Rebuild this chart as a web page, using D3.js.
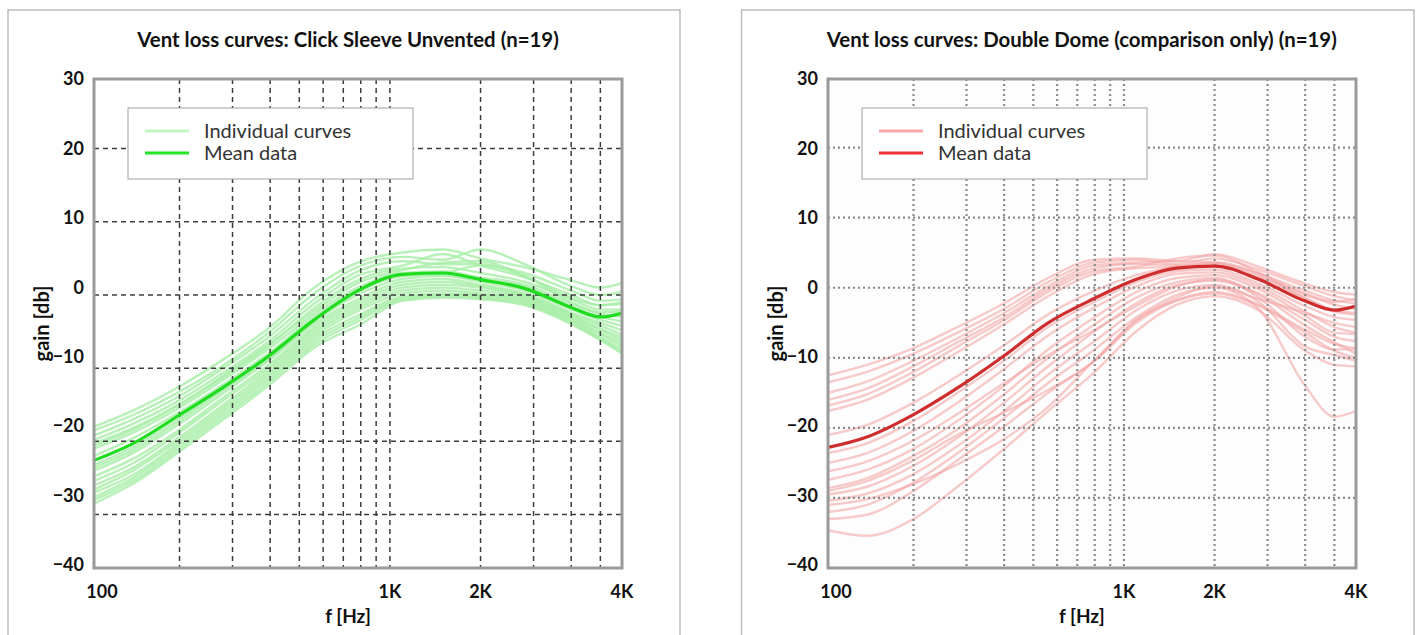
<!DOCTYPE html>
<html>
<head>
<meta charset="utf-8">
<script src="https://cdn.jsdelivr.net/npm/d3@7"></script>
<style>
body { margin: 0; background: #fff; }
text { font-family: Lato, "Open Sans", sans-serif; }
</style>
</head>
<body>
<div class="board"></div>
<script>

// frequency points shared by every curve (Hz)
var freqs = [104, 140, 200, 280, 400, 560, 800, 1100, 1500, 2000, 2800, 4000, 5000, 5900];

var clickMean = [-22.6, -20.3, -16.4, -12.6, -8.2, -3.4, 0.8, 2.8, 3.0, 2.1, 0.9, -1.7, -3.0, -2.5];
var clickCurves = [
  [-18.0, -15.8, -12.5, -8.8, -4.4, 1.0, 4.6, 5.8, 6.2, 5.0, 3.8, 2.0, 1.0, 1.6],
  [-18.5, -16.4, -13.2, -9.6, -5.0, 0.2, 4.0, 5.2, 4.8, 6.2, 4.2, 1.2, 0.0, 0.4],
  [-19.2, -17.0, -13.8, -10.0, -5.6, -0.6, 3.4, 4.6, 4.2, 4.2, 3.0, 0.6, -0.8, -0.6],
  [-19.8, -17.6, -14.4, -10.6, -6.2, -1.2, 2.8, 4.0, 5.6, 4.0, 2.4, 0.0, -1.4, -1.2],
  [-20.3, -18.2, -14.9, -11.2, -6.8, -1.8, 2.2, 3.6, 3.8, 3.0, 1.8, -0.6, -2.0, -2.0],
  [-21.0, -18.8, -15.4, -11.6, -7.2, -2.6, 1.2, 3.0, 3.2, 2.4, 1.4, -1.2, -2.6, -3.0],
  [-22.0, -19.6, -16.0, -12.2, -7.8, -3.0, 0.8, 2.6, 2.8, 2.0, 1.2, -1.6, -3.0, -3.6],
  [-23.2, -20.8, -16.8, -12.8, -8.4, -3.6, 0.2, 2.2, 2.6, 1.8, 0.6, -2.0, -3.4, -4.2],
  [-24.0, -21.6, -17.6, -13.4, -8.8, -4.0, -0.4, 1.8, 2.2, 1.4, 0.2, -2.4, -3.8, -4.8],
  [-24.8, -22.4, -18.4, -14.0, -9.4, -4.4, -0.8, 1.4, 1.8, 1.2, 0.0, -2.6, -4.2, -5.4],
  [-25.4, -23.0, -18.8, -14.4, -9.8, -4.8, -1.2, 1.0, 1.4, 1.0, -0.2, -2.8, -4.6, -5.8],
  [-26.0, -23.6, -19.4, -15.0, -10.2, -5.2, -1.6, 0.6, 1.0, 0.6, -0.4, -3.0, -4.8, -6.2],
  [-26.6, -24.0, -19.8, -15.4, -10.6, -5.6, -2.0, 0.2, 0.6, 0.2, -0.6, -3.2, -5.2, -6.6],
  [-27.0, -24.6, -20.2, -15.8, -11.0, -6.0, -2.6, -0.2, 0.2, 0.0, -0.8, -3.4, -5.4, -7.0],
  [-27.6, -25.0, -20.6, -16.2, -11.4, -6.4, -3.0, -0.4, 0.0, -0.2, -1.0, -3.6, -5.8, -7.4],
  [-28.0, -25.4, -21.0, -16.6, -11.8, -6.8, -3.4, -0.6, -0.2, -0.4, -1.2, -3.8, -6.0, -7.8],
  [-28.5, -25.8, -21.4, -17.0, -12.2, -7.2, -4.0, -0.8, -0.4, -0.6, -1.4, -4.0, -6.2, -8.0],
  [-23.6, -21.2, -17.2, -13.0, -8.6, -3.6, 0.6, 2.6, 3.0, 4.0, 2.6, -1.0, -2.4, -2.2],
  [-20.6, -18.4, -15.0, -11.0, -6.6, -2.2, 1.8, 3.4, 4.4, 4.6, 2.6, -0.4, -1.4, -1.0]
];

var domeMean = [-22.8, -21.3, -18.1, -14.3, -9.7, -5.0, -1.5, 1.2, 2.8, 3.1, 1.2, -1.9, -3.2, -2.6];
var domeCurves = [
  [-12.5, -11.0, -8.6, -5.6, -2.2, 1.4, 4.0, 4.2, 3.8, 4.8, 3.0, 0.6, -0.6, -1.0],
  [-13.5, -12.0, -9.4, -6.4, -3.0, 0.8, 3.6, 4.0, 3.4, 4.2, 2.6, 0.2, -1.2, -1.8],
  [-15.0, -13.4, -10.4, -7.2, -3.6, 0.2, 3.2, 3.6, 3.8, 3.6, 2.0, -0.4, -1.8, -2.2],
  [-16.0, -14.4, -11.2, -7.8, -4.2, -0.2, 2.8, 3.4, 3.2, 3.4, 1.6, -0.8, -2.4, -3.0],
  [-16.8, -15.2, -12.0, -8.4, -4.6, -0.6, 2.4, 3.0, 4.2, 4.6, 2.2, -1.0, -2.0, -1.6],
  [-17.6, -16.0, -12.8, -9.2, -5.2, -1.2, 2.0, 2.8, 3.0, 3.2, 1.4, -1.4, -3.2, -3.6],
  [-21.0, -19.6, -16.4, -12.6, -8.2, -3.8, -0.4, 1.8, 3.0, 3.6, 2.0, -1.6, -3.4, -3.8],
  [-23.6, -22.2, -19.0, -15.0, -10.4, -5.6, -2.0, 0.8, 2.4, 2.6, 0.6, -2.6, -4.2, -4.6],
  [-25.0, -23.6, -20.4, -16.4, -11.6, -6.8, -2.8, 0.2, 2.0, 2.2, 0.2, -3.4, -5.6, -6.4],
  [-27.4, -26.0, -23.0, -19.0, -14.0, -8.8, -4.2, -0.6, 1.4, 1.8, -0.2, -4.0, -6.4, -6.6],
  [-28.6, -27.2, -24.0, -20.2, -15.2, -10.0, -5.2, -1.4, 0.8, 1.4, -1.4, -7.0, -8.8, -8.8],
  [-29.5, -28.4, -25.4, -21.4, -16.4, -11.2, -6.2, -2.2, 0.4, 1.0, -1.0, -5.4, -7.8, -9.4],
  [-30.4, -29.4, -26.6, -22.6, -17.6, -12.4, -7.6, -3.2, -0.4, 0.4, -2.0, -8.4, -9.6, -10.4],
  [-32.0, -31.0, -27.8, -23.6, -18.6, -13.6, -8.8, -4.2, -1.0, 0.0, -3.0, -14.0, -18.4, -17.6],
  [-33.0, -32.4, -29.0, -24.6, -19.8, -15.0, -10.4, -5.0, -1.8, -0.6, -2.4, -6.0, -8.0, -8.6],
  [-34.6, -35.4, -33.0, -28.4, -23.0, -17.6, -12.0, -6.2, -2.4, -1.2, -3.2, -9.0, -11.0, -11.2],
  [-26.2, -24.8, -21.8, -18.0, -13.6, -9.6, -6.0, -2.6, 0.2, 1.2, -0.8, -4.6, -7.0, -7.6],
  [-29.0, -27.6, -24.6, -21.0, -17.8, -14.6, -10.4, -4.6, -1.4, 0.2, -1.6, -3.6, -5.0, -5.6],
  [-31.0, -30.2, -28.0, -25.2, -21.6, -17.0, -10.3, -4.6, -1.8, -0.8, -2.6, -6.4, -9.0, -10.0]
];

var gridFreqs = [200, 300, 400, 500, 600, 700, 800, 900, 1000, 2000, 3000, 4000, 5000];
var gridGains = [-30, -20, -10, 0, 10, 20];
var yTickLabels = [-40, -30, -20, -10, 0, 10, 20, 30];
var xTickLabels = ['100', '1K', '2K', '4K'];
var xTickAt = [104, 1000, 2000, 5900];
var legendLabels = ['Individual curves', 'Mean data'];

var width = 1418, height = 635;
var plotW = 528, plotH = 489, plotTop = 79;

var svg = d3.select('.board').append('svg')
            .attr('width', width)
            .attr('height', height);

svg.append('rect').attr('width', width).attr('height', height).attr('fill', '#fff');

var drawPanel = function(p) {
  var x = d3.scaleLog().domain([freqs[0], freqs[freqs.length - 1]]).range([0, plotW]);
  var y = d3.scaleLinear().domain(p.yDomain).range([plotH, 0]);
  // tick labels are spread evenly over the frame
  var yLab = d3.scaleLinear().domain([-40, 30]).range([plotH - 3, 0]);

  var cx = p.boxX + p.boxW / 2 + 4;

  svg.append('rect')
     .attr('x', p.boxX).attr('y', 10)
     .attr('width', p.boxW).attr('height', 660)
     .attr('fill', 'none')
     .attr('stroke', '#bdbdbd')
     .attr('stroke-width', 1.5);

  svg.append('text')
     .attr('x', cx).attr('y', 47)
     .attr('text-anchor', 'middle')
     .attr('font-size', 20.4)
     .attr('font-weight', 700)
     .attr('fill', '#111')
     .text(p.title);

  var g = svg.append('g').attr('transform', 'translate(' + p.left + ',' + plotTop + ')');

  g.append('rect').attr('width', plotW).attr('height', plotH).attr('fill', p.bg);

  g.append('clipPath').attr('id', p.id)
   .append('rect').attr('width', plotW).attr('height', plotH);

  var line = d3.line()
               .x(function(d, i) { return x(freqs[i]); })
               .y(function(d) { return y(d); })
               .curve(d3.curveMonotoneX);

  var plot = g.append('g').attr('clip-path', 'url(#' + p.id + ')');

  plot.selectAll('path.ind')
      .data(p.curves)
      .enter()
      .append('path')
      .attr('class', 'ind')
      .attr('d', line)
      .attr('fill', 'none')
      .attr('stroke', p.indColor)
      .attr('stroke-opacity', p.indOpacity)
      .attr('stroke-width', 2.4);

  plot.selectAll('line.vgrid')
      .data(gridFreqs)
      .enter()
      .append('line')
      .attr('class', 'vgrid')
      .attr('x1', function(d) { return x(d); })
      .attr('x2', function(d) { return x(d); })
      .attr('y1', 0).attr('y2', plotH)
      .attr('stroke', p.gridColor)
      .attr('stroke-width', p.gridWidth)
      .attr('stroke-dasharray', p.gridDash);

  plot.selectAll('line.hgrid')
      .data(gridGains)
      .enter()
      .append('line')
      .attr('class', 'hgrid')
      .attr('x1', 0).attr('x2', plotW)
      .attr('y1', function(d) { return y(d); })
      .attr('y2', function(d) { return y(d); })
      .attr('stroke', p.gridColor)
      .attr('stroke-width', p.gridWidth)
      .attr('stroke-dasharray', p.gridDash);

  plot.append('path')
      .datum(p.mean)
      .attr('d', line)
      .attr('fill', 'none')
      .attr('stroke', p.meanColor)
      .attr('stroke-width', 3.2);

  g.append('rect')
   .attr('width', plotW).attr('height', plotH)
   .attr('fill', 'none')
   .attr('stroke', '#9a9a9a')
   .attr('stroke-width', 3);

  var yAxis = g.append('g')
               .call(d3.axisLeft(yLab).tickValues(yTickLabels).tickSize(0).tickPadding(10));
  yAxis.select('.domain').remove();
  yAxis.selectAll('text')
       .attr('font-size', 18)
       .attr('font-weight', 700)
       .attr('font-family', 'Lato, sans-serif')
       .attr('fill', '#111');

  g.selectAll('text.xlab')
   .data(xTickLabels)
   .enter()
   .append('text')
   .attr('class', 'xlab')
   .attr('x', function(d, i) { return x(xTickAt[i]) + (i === 0 ? 8 : 0); })
   .attr('y', plotH + 30)
   .attr('text-anchor', 'middle')
   .attr('font-size', 18)
   .attr('font-weight', 700)
   .attr('fill', '#111')
   .text(function(d) { return d; });

  svg.append('text')
     .attr('x', cx).attr('y', 623)
     .attr('text-anchor', 'middle')
     .attr('font-size', 19)
     .attr('font-weight', 700)
     .attr('fill', '#111')
     .text('f [Hz]');

  svg.append('text')
     .attr('transform', 'translate(' + (p.left - 45) + ',' + (plotTop + plotH / 2) + ') rotate(-90)')
     .attr('text-anchor', 'middle')
     .attr('font-size', 20)
     .attr('font-weight', 700)
     .attr('fill', '#111')
     .text('gain [db]');

  // legend
  var leg = g.append('g').attr('transform', 'translate(34,29)');
  leg.append('rect')
     .attr('width', 285).attr('height', 71)
     .attr('fill', '#fff')
     .attr('stroke', '#a0a0a0')
     .attr('stroke-width', 1);
  var legColors = [p.legInd, p.legMean];
  leg.selectAll('line')
     .data(legendLabels)
     .enter()
     .append('line')
     .attr('x1', 17).attr('x2', 61)
     .attr('y1', function(d, i) { return 23 + i * 22; })
     .attr('y2', function(d, i) { return 23 + i * 22; })
     .attr('stroke', function(d, i) { return legColors[i]; })
     .attr('stroke-width', 3);
  leg.selectAll('text')
     .data(legendLabels)
     .enter()
     .append('text')
     .attr('x', 76)
     .attr('y', function(d, i) { return 23 + i * 22; })
     .attr('dy', '0.35em')
     .attr('font-size', 20)
     .attr('fill', '#333')
     .text(function(d) { return d; });
};

drawPanel({
  id: 'clipClick', boxX: 8, boxW: 672, left: 94,
  title: 'Vent loss curves: Click Sleeve Unvented (n=19)',
  curves: clickCurves, mean: clickMean, yDomain: [-37.3, 29.5],
  indColor: '#a6eea6', indOpacity: 0.8, meanColor: '#1edc1e',
  legInd: '#c4f6c4', legMean: '#22e622',
  gridColor: '#3c3c3c', gridWidth: 1.5, gridDash: '5,4', bg: '#fff'
});

drawPanel({
  id: 'clipDome', boxX: 741.5, boxW: 672.5, left: 828,
  title: 'Vent loss curves: Double Dome (comparison only) (n=19)',
  curves: domeCurves, mean: domeMean, yDomain: [-40, 29.8],
  indColor: '#f3a6a6', indOpacity: 0.6, meanColor: '#cf2d2d',
  legInd: '#f8a8a8', legMean: '#ee3030',
  gridColor: '#8c8c8c', gridWidth: 2.2, gridDash: '2,3', bg: '#fdfdfd'
});

</script>
</body>
</html>
